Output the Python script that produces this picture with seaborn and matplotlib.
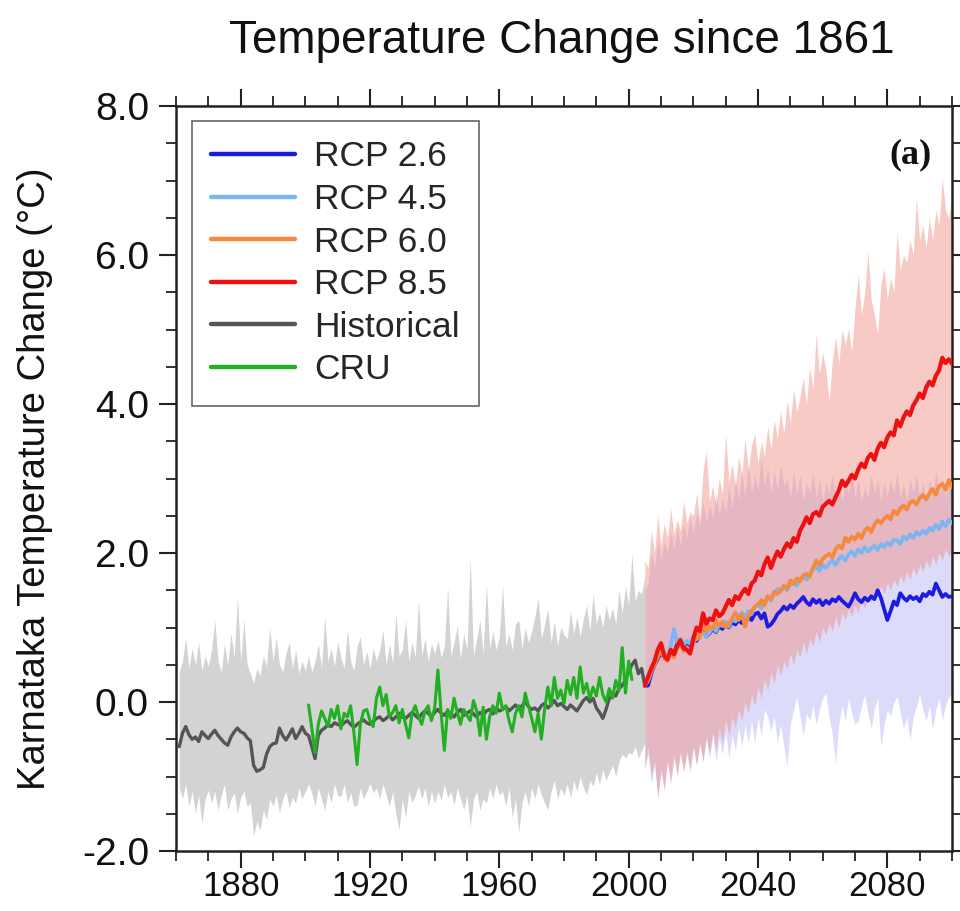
import matplotlib
matplotlib.use("Agg")
import matplotlib.pyplot as plt
from matplotlib.lines import Line2D
from matplotlib.ticker import MultipleLocator, FormatStrFormatter
import seaborn as sns

# ---------------------------------------------------------------- data
hist_years = list(range(1861, 2006))
cru_years = list(range(1901, 2002))
rcp_years = list(range(2005, 2101))

historical = [
    -0.60, -0.42, -0.33, -0.44, -0.50, -0.47, -0.53, -0.40, -0.45, -0.49,
    -0.43, -0.38, -0.45, -0.50, -0.55, -0.58, -0.47, -0.40, -0.35, -0.40,
    -0.42, -0.48, -0.52, -0.85, -0.93, -0.91, -0.88, -0.70, -0.60, -0.56,
    -0.55, -0.35, -0.45, -0.51, -0.44, -0.36, -0.49, -0.42, -0.33, -0.42,
    -0.45, -0.60, -0.76, -0.45, -0.38, -0.35, -0.30, -0.33, -0.28, -0.30,
    -0.32, -0.28, -0.25, -0.30, -0.34, -0.30, -0.27, -0.24, -0.28, -0.30,
    -0.26, -0.22, -0.20, -0.25, -0.22, -0.18, -0.24, -0.20, -0.15, -0.20,
    -0.22, -0.18, -0.14, -0.18, -0.22, -0.16, -0.12, -0.15, -0.20, -0.14,
    -0.10, -0.15, -0.18, -0.12, -0.16, -0.20, -0.14, -0.10, -0.18, -0.15,
    -0.12, -0.16, -0.20, -0.14, -0.18, -0.12, -0.10, -0.16, -0.08, -0.12,
    -0.10, -0.06, -0.12, -0.08, -0.04, -0.10, -0.05, 0.00, -0.06, -0.10,
    -0.08, -0.12, -0.05, -0.02, -0.08, -0.04, 0.02, -0.05, -0.02, -0.06,
    -0.10, -0.04, -0.08, -0.12, -0.05, 0.02, 0.06, 0.00, 0.05, -0.08,
    -0.14, -0.22, -0.10, 0.05, 0.12, 0.08, 0.18, 0.22, 0.30, 0.40,
    0.50, 0.56, 0.38, 0.45, 0.22,
]
historical_low = [
    -1.15, -1.30, -1.10, -1.40, -1.20, -1.49, -1.25, -1.63, -1.30, -1.18,
    -1.35, -1.20, -1.45, -1.25, -1.10, -1.45, -1.30, -1.22, -1.50, -1.28,
    -1.20, -1.40, -1.35, -1.80, -1.60, -1.72, -1.45, -1.58, -1.30, -1.40,
    -1.25, -1.49, -1.30, -1.20, -1.42, -1.28, -1.36, -1.15, -1.30, -1.20,
    -1.10, -1.22, -1.40, -1.15, -1.30, -1.45, -1.20, -1.35, -1.10, -1.25,
    -1.27, -1.10, -1.35, -1.22, -1.40, -1.38, -1.15, -1.30, -1.20, -1.09,
    -1.22, -1.15, -1.30, -1.10, -1.25, -1.40, -1.20, -1.50, -1.71, -1.30,
    -1.55, -1.20, -1.35, -1.25, -1.13, -1.30, -1.15, -1.40, -1.20, -1.36,
    -1.20, -1.32, -1.10, -1.28, -1.20, -1.38, -1.15, -1.30, -1.45, -1.25,
    -1.67, -1.30, -1.20, -1.45, -1.30, -1.36, -1.15, -1.30, -1.10, -1.25,
    -1.20, -1.40, -1.15, -1.55, -1.30, -1.75, -1.35, -1.20, -1.40, -1.15,
    -1.30, -1.10, -1.25, -1.35, -1.45, -1.20, -1.05, -1.30, -1.15, -1.25,
    -1.10, -1.28, -1.05, -1.20, -1.00, -1.15, -1.25, -1.05, -1.13, -0.95,
    -1.10, -0.90, -1.05, -0.95, -0.85, -1.00, -0.80, -0.70, -0.75, -0.68,
    -0.70, -0.60, -0.75, -0.65, -0.55,
]
historical_high = [
    0.40, 0.55, 0.87, 0.45, 0.72, 0.50, 0.80, 0.42, 0.62, 0.48,
    0.70, 1.10, 0.55, 0.40, 0.78, 0.50, 0.92, 0.60, 1.41, 0.55,
    1.10, 0.50, 0.38, 0.25, 0.45, 0.35, 0.62, 0.48, 1.00, 0.55,
    0.87, 0.50, 0.40, 0.65, 0.80, 0.45, 0.70, 0.38, 0.55, 0.42,
    0.62, 0.40, 0.55, 0.78, 0.45, 1.15, 0.55, 0.72, 0.48, 0.80,
    0.60, 0.45, 0.98, 0.55, 0.42, 0.75, 0.87, 0.50, 0.68, 0.45,
    0.72, 0.55, 0.70, 0.96, 0.50, 0.78, 0.52, 1.19, 0.62, 0.70,
    1.10, 0.55, 0.80, 0.60, 1.37, 0.62, 0.85, 0.55, 0.78, 0.65,
    0.83, 0.60, 0.75, 1.54, 0.62, 0.80, 1.02, 0.58, 0.92, 0.70,
    1.95, 0.62, 0.85, 1.10, 0.65, 1.59, 0.72, 0.95, 0.70, 0.88,
    1.57, 0.75, 0.92, 0.70, 1.05, 1.10, 0.72, 1.00, 0.80, 0.95,
    1.15, 1.40, 0.85, 1.05, 1.25, 0.80, 1.08, 0.75, 1.00, 0.90,
    0.85, 1.22, 0.92, 1.15, 0.88, 1.12, 1.30, 0.95, 1.45, 1.05,
    1.20, 1.00, 1.30, 1.10, 1.26, 1.05, 1.50, 1.20, 1.55, 1.30,
    1.99, 1.35, 1.50, 1.45, 1.70,
]
cru = [
    -0.04, -0.35, -0.68, -0.30, -0.12, -0.22, -0.33, -0.10, -0.22, -0.05,
    -0.36, -0.15, -0.20, -0.05, -0.40, -0.84, -0.30, -0.12, -0.10, -0.25,
    -0.33, 0.05, 0.20, -0.05, 0.10, -0.20, -0.14, -0.05, -0.28, -0.10,
    -0.30, -0.48, -0.15, -0.05, -0.20, -0.30, -0.12, -0.05, -0.25, -0.08,
    0.43, -0.15, -0.65, -0.10, -0.22, 0.05, -0.14, -0.30, -0.10, -0.18,
    -0.25, 0.02, -0.12, -0.45, -0.07, -0.50, -0.20, -0.05, -0.15, 0.12,
    -0.10, -0.05, -0.25, -0.40, -0.15, -0.05, -0.20, 0.12, -0.05, -0.22,
    -0.40, -0.15, -0.50, -0.10, 0.20, -0.05, 0.33, 0.05, 0.16, -0.02,
    0.29, 0.10, 0.33, 0.05, 0.47, 0.12, 0.25, 0.05, 0.20, 0.08,
    0.33, 0.10, 0.00, 0.18, 0.05, 0.29, 0.15, 0.73, 0.12, 0.55,
    0.30,
]
# scenario series start from the 2005 value shared with the historical run
rcp26 = [
    0.22,
    0.22, 0.38, 0.50, 0.58, 0.66, 0.60, 0.58, 0.70, 0.65, 0.78,
    0.80, 0.74, 0.80, 0.76, 0.86, 0.82, 0.90, 0.95, 0.88, 0.92,
    0.98, 0.94, 1.02, 0.98, 1.05, 1.00, 1.08, 1.04, 1.10, 1.06,
    1.12, 1.15, 1.10, 1.18, 1.20, 1.12, 1.19, 1.01, 1.04, 1.10,
    1.18, 1.22, 1.28, 1.24, 1.30, 1.26, 1.32, 1.36, 1.41, 1.34,
    1.30, 1.38, 1.33, 1.37, 1.30, 1.36, 1.32, 1.38, 1.35, 1.41,
    1.36, 1.32, 1.28, 1.36, 1.46, 1.38, 1.34, 1.40, 1.36, 1.42,
    1.38, 1.50, 1.40, 1.25, 1.10, 1.22, 1.35, 1.30, 1.46, 1.40,
    1.36, 1.42, 1.38, 1.41, 1.35, 1.45, 1.42, 1.48, 1.44, 1.59,
    1.50, 1.41, 1.45, 1.41, 1.42,
]
rcp45 = [
    0.22,
    0.28, 0.40, 0.52, 0.60, 0.72, 0.66, 0.60, 0.75, 0.98, 0.80,
    0.85, 0.76, 0.82, 0.78, 0.88, 0.84, 0.92, 0.93, 0.88, 0.93,
    1.00, 0.95, 1.05, 1.02, 1.08, 1.01, 1.12, 1.08, 1.15, 1.20,
    1.14, 1.22, 1.18, 1.28, 1.32, 1.26, 1.35, 1.40, 1.36, 1.45,
    1.52, 1.48, 1.55, 1.50, 1.58, 1.62, 1.56, 1.65, 1.70, 1.64,
    1.72, 1.78, 1.82, 1.76, 1.84, 1.80, 1.86, 1.90, 1.84, 1.92,
    1.96, 1.90, 1.98, 2.02, 1.96, 2.05, 2.00, 2.08, 2.02, 2.06,
    2.10, 2.04, 2.12, 2.08, 2.14, 2.10, 2.18, 2.17, 2.12, 2.22,
    2.18, 2.25, 2.20, 2.28, 2.24, 2.30, 2.26, 2.34, 2.30, 2.38,
    2.32, 2.42, 2.36, 2.45, 2.40,
]
rcp60 = [
    0.22,
    0.30, 0.42, 0.50, 0.62, 0.70, 0.58, 0.55, 0.66, 0.60, 0.72,
    0.78, 0.68, 0.72, 0.66, 0.80, 0.90, 0.86, 1.05, 0.95, 1.02,
    0.98, 1.10, 1.02, 1.08, 1.00, 1.05, 1.12, 1.20, 1.10, 1.18,
    1.01, 1.15, 1.22, 1.28, 1.30, 1.37, 1.30, 1.42, 1.38, 1.48,
    1.45, 1.50, 1.56, 1.52, 1.63, 1.58, 1.66, 1.62, 1.70, 1.72,
    1.68, 1.80, 1.90, 1.84, 1.92, 1.96, 1.99, 1.94, 2.05, 2.10,
    2.06, 2.21, 2.15, 2.22, 2.18, 2.26, 2.20, 2.30, 2.34, 2.28,
    2.38, 2.44, 2.40, 2.46, 2.50, 2.45, 2.57, 2.52, 2.60, 2.64,
    2.58, 2.68, 2.70, 2.65, 2.74, 2.78, 2.72, 2.80, 2.86, 2.78,
    2.90, 2.93, 2.85, 2.98, 2.88,
]
rcp85 = [
    0.22,
    0.34, 0.45, 0.55, 0.70, 0.79, 0.62, 0.57, 0.70, 0.64, 0.75,
    0.83, 0.72, 0.70, 0.65, 0.85, 1.00, 0.95, 1.19, 1.05, 1.12,
    1.10, 1.23, 1.15, 1.19, 1.28, 1.37, 1.30, 1.42, 1.38, 1.46,
    1.52, 1.45, 1.59, 1.63, 1.75, 1.70, 1.85, 1.94, 1.80, 1.92,
    2.02, 1.95, 2.05, 2.13, 2.08, 2.20, 2.15, 2.30, 2.38, 2.48,
    2.40, 2.52, 2.55, 2.50, 2.62, 2.66, 2.70, 2.65, 2.75, 2.84,
    2.97, 2.90, 2.97, 3.05, 3.00, 3.12, 3.20, 3.15, 3.28, 3.33,
    3.25, 3.40, 3.48, 3.42, 3.55, 3.62, 3.58, 3.78, 3.70, 3.82,
    3.90, 3.85, 3.98, 4.05, 4.14, 4.08, 4.22, 4.30, 4.25, 4.38,
    4.45, 4.62, 4.55, 4.60, 4.54,
]
rcp26_low = [
    -0.90,
    -0.70, -1.10, -0.85, -1.25, -0.95, -1.20, -0.80, -1.05, -0.70, -0.95,
    -0.65, -0.90, -0.70, -0.95, -0.60, -0.85, -0.55, -0.80, -0.50, -0.75,
    -0.45, -0.80, -0.50, -0.70, -0.40, -0.75, -0.45, -0.65, -0.35, -0.60,
    -0.30, -0.55, -0.25, -0.55, -0.20, -0.45, -0.10, -0.19, -0.40, -0.20,
    -0.55, -0.30, -0.60, -0.86, -0.30, -0.10, 0.07, -0.20, -0.45, -0.15,
    -0.25, -0.05, -0.30, -0.10, 0.05, 0.12, -0.20, -0.45, -0.82, -0.30,
    -0.05, -0.25, 0.05, -0.15, -0.30, -0.25, -0.05, 0.10, -0.15, -0.35,
    -0.10, 0.05, -0.60, -0.30, -0.10, -0.20, 0.00, 0.07, -0.15, -0.35,
    -0.20, -0.51, -0.20, -0.05, 0.10, -0.10, -0.25, -0.05, -0.37, -0.10,
    0.05, -0.24, -0.05, 0.07, 0.10,
]
rcp26_high = [
    1.50,
    1.60, 2.00, 1.80, 2.20, 1.90, 2.15, 2.00, 2.30, 2.05, 2.35,
    2.10, 2.40, 2.20, 2.50, 2.25, 2.55, 2.35, 2.70, 2.40, 2.65,
    2.45, 2.80, 2.50, 2.75, 2.55, 2.90, 2.60, 3.00, 2.70, 3.10,
    2.75, 3.20, 2.80, 3.05, 2.85, 3.30, 2.90, 3.15, 2.80, 3.10,
    2.85, 3.20, 2.90, 3.00, 2.75, 3.10, 2.80, 3.05, 2.70, 2.95,
    2.80, 3.10, 2.75, 3.00, 2.70, 2.95, 2.80, 3.05, 2.75, 3.00,
    2.70, 2.95, 2.80, 3.10, 2.75, 3.00, 2.70, 2.90, 2.75, 3.05,
    2.80, 3.00, 2.70, 2.95, 2.75, 3.00, 2.80, 3.10, 2.75, 2.95,
    2.70, 3.00, 2.80, 3.05, 2.75, 2.95, 2.70, 3.00, 2.80, 3.10,
    2.80, 3.00, 2.75, 2.95, 2.85,
]
rcp85_low = [
    -0.90,
    -0.60, -1.00, -0.80, -1.31, -0.90, -1.15, -0.80, -1.10, -0.75, -1.00,
    -0.70, -0.95, -0.65, -0.90, -0.60, -0.85, -0.55, -0.80, -0.45, -0.70,
    -0.40, -0.65, -0.35, -0.55, -0.25, -0.45, -0.20, -0.35, -0.10, -0.25,
    0.00, -0.15, 0.10, -0.05, 0.20, 0.05, 0.30, 0.15, 0.40, 0.25,
    0.50, 0.35, 0.55, 0.45, 0.65, 0.50, 0.70, 0.60, 0.80, 0.65,
    0.85, 0.75, 0.95, 0.80, 1.00, 0.90, 1.05, 0.95, 1.15, 1.00,
    1.20, 1.10, 1.25, 1.15, 1.30, 1.20, 1.40, 1.25, 1.45, 1.35,
    1.50, 1.40, 1.55, 1.45, 1.60, 1.50, 1.65, 1.55, 1.70, 1.60,
    1.75, 1.65, 1.80, 1.70, 1.85, 1.75, 1.90, 1.80, 1.95, 1.85,
    2.00, 1.90, 2.05, 1.95, 2.05,
]
rcp85_high = [
    1.90,
    1.80, 2.30, 2.00, 2.50, 2.10, 2.40, 2.20, 2.60, 2.25, 2.45,
    2.30, 2.70, 2.40, 2.55, 2.50, 2.80, 2.45, 3.10, 3.37, 2.70,
    2.90, 2.65, 3.00, 2.80, 3.60, 2.95, 3.20, 2.90, 3.30, 3.05,
    3.55, 3.10, 3.45, 3.60, 3.20, 3.50, 3.30, 3.70, 3.40, 3.78,
    3.55, 3.90, 3.60, 4.05, 3.75, 4.20, 3.90, 4.10, 4.35, 4.00,
    4.50, 4.20, 4.94, 4.40, 4.70, 4.45, 4.04, 4.60, 4.90, 4.55,
    5.00, 4.80, 5.02, 4.70, 5.30, 5.74, 5.20, 5.50, 6.05, 5.40,
    5.20, 4.94, 5.60, 5.83, 5.40, 5.70, 5.50, 6.30, 5.80, 6.00,
    5.90, 6.20, 6.00, 6.76, 6.20, 6.40, 6.10, 6.50, 6.20, 6.60,
    6.40, 7.03, 6.60, 6.50, 6.80,
]

series_labels = ["RCP 2.6", "RCP 4.5", "RCP 6.0", "RCP 8.5", "Historical", "CRU"]
series_colors = ["#1c1ce0", "#7db6ee", "#f58a3c", "#ee1111", "#555555", "#22b022"]

# ---------------------------------------------------------------- style
sns.set_theme(style="ticks")
plt.rcParams["font.family"] = ["Liberation Sans", "DejaVu Sans"]

fig = plt.figure(figsize=(9.6, 9.11), dpi=100)
ax = fig.add_axes([176 / 960, 60 / 911, 776 / 960, 745 / 911])

# ---------------------------------------------------------------- spreads
ax.fill_between(hist_years, historical_low, historical_high,
                color="#d3d3d3", linewidth=0, zorder=1)
ax.fill_between(rcp_years, rcp26_low, rcp26_high,
                color="#a4a4f4", alpha=0.38, linewidth=0, zorder=2)
ax.fill_between(rcp_years, rcp85_low, rcp85_high,
                color="#f08a80", alpha=0.45, linewidth=0, zorder=2.1)

# ---------------------------------------------------------------- lines
line_sets = [
    (hist_years, historical, series_colors[4], 2.4, 3),
    (cru_years, cru, series_colors[5], 2.2, 4),
    (rcp_years, rcp26, series_colors[0], 2.7, 5),
    (rcp_years, rcp45, series_colors[1], 2.7, 5),
    (rcp_years, rcp60, series_colors[2], 2.7, 6),
    (rcp_years, rcp85, series_colors[3], 3.0, 7),
]
for xs, ys, col, lw, z in line_sets:
    sns.lineplot(x=xs, y=ys, color=col, linewidth=lw, ax=ax,
                 errorbar=None, legend=False, zorder=z)

# ---------------------------------------------------------------- axes
ax.set_xlim(1860, 2100)
ax.set_ylim(-2, 8)
ax.xaxis.set_major_locator(MultipleLocator(40))
ax.xaxis.set_minor_locator(MultipleLocator(10))
ax.yaxis.set_major_locator(MultipleLocator(2))
ax.yaxis.set_minor_locator(MultipleLocator(0.5))
ax.yaxis.set_major_formatter(FormatStrFormatter("%.1f"))

for sp in ax.spines.values():
    sp.set_visible(True)
    sp.set_linewidth(1.8)
    sp.set_color("#222222")

ax.tick_params(which="major", direction="out", length=12.5, width=1.5,
               top=True, right=True, color="#222222", labelcolor="#111111")
ax.tick_params(which="minor", direction="out", length=7, width=1.3,
               top=True, right=True, color="#222222")
ax.tick_params(axis="x", which="major", labelsize=25, pad=1.5)
ax.tick_params(axis="y", which="major", labelsize=28, pad=7)

ax.set_ylabel("Karnataka Temperature Change (°C)", fontsize=27.5, color="#111111")
ax.yaxis.set_label_coords(-0.1585, 0.5)
ax.set_xlabel("")

fig.text(562 / 960, 1 - 41 / 911, "Temperature Change since 1861",
         fontsize=33, ha="center", va="center", color="#111111")

ax.text(0.947, 0.934, "(a)", transform=ax.transAxes, ha="center", va="center",
        fontsize=26, fontweight="bold", family=["Liberation Serif", "DejaVu Serif"],
        color="#111111", zorder=10)

handles = [Line2D([0], [0], color=c, linewidth=3.2) for c in series_colors]
leg = ax.legend(handles, series_labels, loc="upper left",
                bbox_to_anchor=((192 - 176) / 776, (851 - 121) / 745),
                borderaxespad=0, fontsize=25.5, handlelength=2.35,
                handletextpad=0.55, labelspacing=0.27, borderpad=0.55,
                frameon=True, fancybox=False, framealpha=1)
leg.get_frame().set_edgecolor("#666666")
leg.get_frame().set_linewidth(1.2)
leg.set_zorder(20)

fig.savefig("out.png", dpi=100)
